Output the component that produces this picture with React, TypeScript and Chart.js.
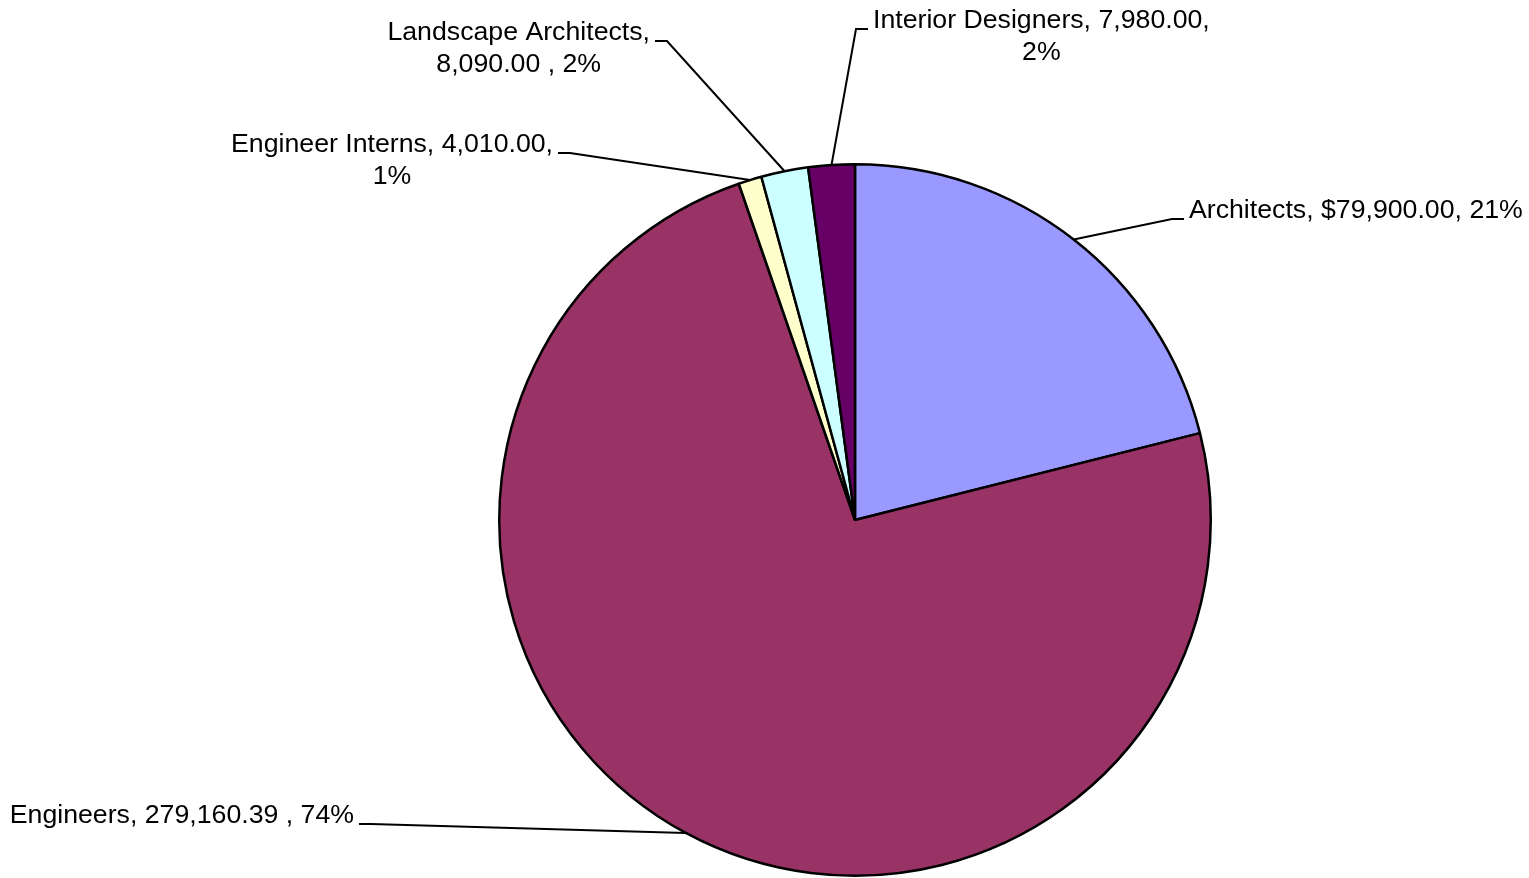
import React, { useEffect, useRef } from "react";
import { Chart, registerables } from "chart.js";

Chart.register(...registerables);

const categories = [
  "Architects",
  "Engineers",
  "Engineer Interns",
  "Landscape Architects",
  "Interior Designers",
];
const values = [79900, 279160.39, 4010, 8090, 7980];
const valueLabels = ["$79,900.00", "279,160.39 ", "4,010.00", "8,090.00 ", "7,980.00"];
const colors = ["#9999FF", "#993366", "#FFFFCC", "#CCFFFF", "#660066"];
// how each label wraps: 0 = one line, 1 = break after name, 2 = break after value
const wraps = [0, 0, 2, 1, 2];

// label placement (text side relative to leader, anchor x of first line's edge, baseline of first line)
const labelLayout = [
  { side: "right", x: 1189, base: 218 },
  { side: "left", x: 354, base: 823 },
  { side: "left", x: 553, base: 152 },
  { side: "left", x: 650, base: 40 },
  { side: "right", x: 873, base: 28 },
];

const FONT = '26.7px "Liberation Sans", Arial, sans-serif';
const LINE_H = 31.5;

function labelLines(i: number, pct: number): string[] {
  const name = categories[i];
  const v = valueLabels[i];
  if (wraps[i] === 1) return [`${name},`, `${v}, ${pct}%`];
  if (wraps[i] === 2) return [`${name}, ${v},`, `${pct}%`];
  return [`${name}, ${v}, ${pct}%`];
}

const labelPlugin = {
  id: "pieLabels",
  afterDraw(chart: any) {
    const ctx = chart.ctx as CanvasRenderingContext2D;
    const meta = chart.getDatasetMeta(0);
    const total = values.reduce((a, b) => a + b, 0);
    ctx.save();
    ctx.font = FONT;
    ctx.fillStyle = "#000";
    ctx.strokeStyle = "#000";
    ctx.lineWidth = 2;
    meta.data.forEach((arc: any, i: number) => {
      const p = arc.getProps(["x", "y", "startAngle", "endAngle", "outerRadius"], true);
      const mid = (p.startAngle + p.endAngle) / 2;
      const ex = p.x + Math.cos(mid) * p.outerRadius;
      const ey = p.y + Math.sin(mid) * p.outerRadius;
      const pct = Math.round((values[i] / total) * 100);
      const lines = labelLines(i, pct);
      const L = labelLayout[i];
      const w0 = ctx.measureText(lines[0]).width;
      const left = L.side === "right" ? L.x : L.x - w0;
      const cx = left + w0 / 2;
      const stubY = L.base + 1;
      let s1: number, s2: number;
      if (L.side === "right") {
        s2 = left - 5;
        s1 = s2 - 12;
      } else {
        s1 = left + w0 + 5;
        s2 = s1 + 12;
      }
      const elbow = L.side === "right" ? s1 : s2;
      ctx.beginPath();
      ctx.moveTo(ex, ey);
      ctx.lineTo(elbow, stubY);
      ctx.lineTo(L.side === "right" ? s2 : s1, stubY);
      ctx.stroke();
      ctx.textAlign = "center";
      ctx.textBaseline = "alphabetic";
      lines.forEach((t, k) => {
        ctx.fillText(t, cx, L.base + k * LINE_H);
      });
    });
    ctx.restore();
  },
};

export default function App() {
  const ref = useRef<HTMLCanvasElement | null>(null);
  useEffect(() => {
    if (!ref.current) return;
    const chart = new Chart(ref.current, {
      type: "pie",
      data: {
        labels: categories,
        datasets: [
          {
            data: values,
            backgroundColor: colors,
            borderColor: "#000",
            borderWidth: 2.5,
          },
        ],
      },
      options: {
        responsive: false,
        animation: false,
        events: [],
        layout: { padding: { left: 498, top: 163, right: 317, bottom: 1 } },
        plugins: {
          legend: { display: false },
          tooltip: { enabled: false },
        },
      },
      plugins: [labelPlugin],
    });
    return () => chart.destroy();
  }, []);
  return (
    <div style={{ position: "fixed", left: 0, top: 0, width: 1529, height: 878, background: "#fff" }}>
      <canvas ref={ref} width={1529} height={878} style={{ width: 1529, height: 878 }} />
    </div>
  );
}
